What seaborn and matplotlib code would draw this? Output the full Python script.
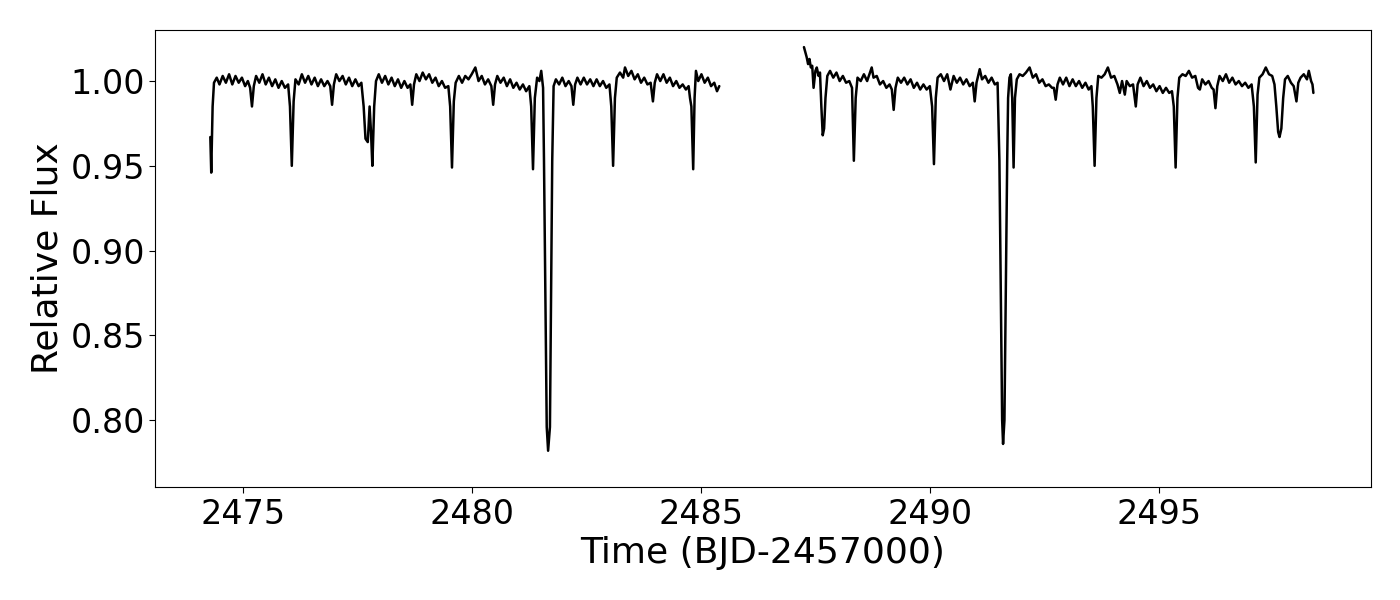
import numpy as np
import pandas as pd
import matplotlib
matplotlib.use('Agg')
import matplotlib.pyplot as plt
import seaborn as sns

# first orbit of the light curve
time_1 = [
    2474.28, 2474.30, 2474.33, 2474.36, 2474.42, 2474.48, 2474.55, 2474.62, 2474.69, 2474.76,
    2474.83, 2474.90, 2474.97, 2475.04, 2475.10, 2475.15, 2475.19, 2475.23, 2475.28, 2475.35,
    2475.42, 2475.49, 2475.56, 2475.63, 2475.70, 2475.77, 2475.84, 2475.91, 2475.98, 2476.02,
    2476.06, 2476.10, 2476.14, 2476.21, 2476.28, 2476.35, 2476.42, 2476.49, 2476.56, 2476.63,
    2476.70, 2476.77, 2476.84, 2476.90, 2476.94, 2476.98, 2477.03, 2477.10, 2477.17, 2477.24,
    2477.31, 2477.38, 2477.45, 2477.52, 2477.58, 2477.63, 2477.67, 2477.72, 2477.76, 2477.79,
    2477.82, 2477.86, 2477.90, 2477.96, 2478.03, 2478.10, 2478.17, 2478.24, 2478.31, 2478.38,
    2478.45, 2478.52, 2478.59, 2478.65, 2478.69, 2478.73, 2478.78, 2478.85, 2478.92, 2478.99,
    2479.06, 2479.13, 2479.20, 2479.27, 2479.34, 2479.41, 2479.48, 2479.52, 2479.56, 2479.60,
    2479.64, 2479.71, 2479.78, 2479.85, 2479.92, 2479.99, 2480.07, 2480.14, 2480.21, 2480.28,
    2480.35, 2480.42, 2480.46, 2480.50, 2480.55, 2480.62, 2480.69, 2480.76, 2480.83, 2480.90,
    2480.97, 2481.04, 2481.11, 2481.18, 2481.25, 2481.29, 2481.33, 2481.37, 2481.42, 2481.47,
    2481.51, 2481.55, 2481.57, 2481.63, 2481.66, 2481.70, 2481.75, 2481.78, 2481.83, 2481.90,
    2481.97, 2482.04, 2482.11, 2482.17, 2482.21, 2482.25, 2482.30, 2482.37, 2482.44, 2482.51,
    2482.58, 2482.65, 2482.72, 2482.79, 2482.86, 2482.93, 2483.00, 2483.04, 2483.08, 2483.12,
    2483.16, 2483.23, 2483.30, 2483.34, 2483.41, 2483.48, 2483.55, 2483.62, 2483.69, 2483.76,
    2483.83, 2483.90, 2483.95, 2483.99, 2484.04, 2484.11, 2484.18, 2484.25, 2484.32, 2484.39,
    2484.46, 2484.53, 2484.60, 2484.67, 2484.73, 2484.76, 2484.79, 2484.83, 2484.86, 2484.89,
    2484.94, 2485.01, 2485.08, 2485.15, 2485.22, 2485.29, 2485.35, 2485.40,
]
flux_1 = [
    0.967, 0.946, 0.985, 0.999, 1.002, 0.998, 1.003, 0.999, 1.004, 0.998,
    1.003, 0.999, 1.002, 0.997, 1.000, 0.996, 0.985, 0.997, 1.003, 0.999,
    1.004, 0.998, 1.002, 0.997, 1.001, 0.996, 1.000, 0.996, 0.998, 0.985,
    0.950, 0.988, 1.001, 0.998, 1.004, 0.999, 1.003, 0.998, 1.002, 0.997,
    1.001, 0.997, 1.000, 0.997, 0.986, 0.998, 1.004, 1.000, 1.003, 0.998,
    1.002, 0.997, 1.001, 0.997, 0.999, 0.985, 0.966, 0.964, 0.985, 0.970,
    0.950, 0.985, 1.000, 1.004, 0.999, 1.003, 0.998, 1.002, 0.997, 1.001,
    0.996, 1.000, 0.996, 0.998, 0.986, 0.998, 1.004, 1.000, 1.005, 1.001,
    1.004, 0.999, 1.002, 0.997, 1.000, 0.996, 0.997, 0.985, 0.949, 0.988,
    0.999, 1.003, 0.999, 1.003, 1.001, 1.004, 1.008, 1.000, 1.003, 0.998,
    1.001, 0.997, 0.986, 0.998, 1.003, 0.999, 1.002, 0.997, 1.001, 0.996,
    0.999, 0.995, 0.998, 0.994, 0.997, 0.985, 0.948, 0.990, 1.002, 1.000,
    1.006, 0.996, 0.953, 0.796, 0.782, 0.796, 0.953, 0.997, 1.001, 0.998,
    1.002, 0.997, 1.000, 0.997, 0.986, 0.998, 1.002, 0.998, 1.002, 0.998,
    1.001, 0.997, 1.001, 0.997, 1.000, 0.996, 0.998, 0.985, 0.950, 0.990,
    1.002, 1.005, 1.002, 1.008, 1.003, 1.006, 1.001, 1.004, 0.999, 1.002,
    0.998, 0.999, 0.988, 0.999, 1.004, 1.000, 1.004, 0.999, 1.002, 0.997,
    1.000, 0.996, 0.998, 0.995, 0.997, 0.990, 0.985, 0.948, 0.990, 1.006,
    1.000, 1.004, 0.999, 1.002, 0.997, 0.999, 0.994, 0.997,
]

# second orbit
time_2 = [
    2487.25, 2487.28, 2487.31, 2487.34, 2487.37, 2487.40, 2487.43, 2487.46, 2487.50, 2487.53,
    2487.57, 2487.60, 2487.63, 2487.66, 2487.69, 2487.72, 2487.76, 2487.82, 2487.89, 2487.96,
    2488.03, 2488.10, 2488.17, 2488.24, 2488.30, 2488.34, 2488.38, 2488.42, 2488.49, 2488.56,
    2488.63, 2488.73, 2488.77, 2488.84, 2488.91, 2488.98, 2489.05, 2489.12, 2489.17, 2489.21,
    2489.25, 2489.30, 2489.37, 2489.44, 2489.51, 2489.58, 2489.65, 2489.72, 2489.79, 2489.86,
    2489.93, 2490.00, 2490.05, 2490.09, 2490.13, 2490.17, 2490.24, 2490.31, 2490.38, 2490.45,
    2490.52, 2490.59, 2490.66, 2490.73, 2490.80, 2490.87, 2490.94, 2490.98, 2491.02, 2491.09,
    2491.14, 2491.21, 2491.28, 2491.35, 2491.42, 2491.48, 2491.52, 2491.58, 2491.60, 2491.63,
    2491.69, 2491.71, 2491.74, 2491.77, 2491.80, 2491.83, 2491.86, 2491.90, 2491.96, 2492.03,
    2492.10, 2492.18, 2492.25, 2492.32, 2492.39, 2492.46, 2492.53, 2492.60, 2492.67, 2492.71,
    2492.75, 2492.79, 2492.84, 2492.91, 2492.98, 2493.05, 2493.12, 2493.19, 2493.26, 2493.33,
    2493.40, 2493.47, 2493.53, 2493.56, 2493.60, 2493.64, 2493.68, 2493.75, 2493.82, 2493.89,
    2493.96, 2494.03, 2494.10, 2494.15, 2494.20, 2494.26, 2494.30, 2494.37, 2494.44, 2494.50,
    2494.54, 2494.60, 2494.67, 2494.74, 2494.81, 2494.88, 2494.95, 2495.02, 2495.09, 2495.16,
    2495.23, 2495.29, 2495.33, 2495.37, 2495.41, 2495.45, 2495.52, 2495.59, 2495.66, 2495.73,
    2495.80, 2495.86, 2495.90, 2495.95, 2496.02, 2496.09, 2496.16, 2496.20, 2496.24, 2496.28,
    2496.33, 2496.40, 2496.47, 2496.54, 2496.61, 2496.68, 2496.75, 2496.82, 2496.89, 2496.96,
    2497.03, 2497.08, 2497.12, 2497.16, 2497.20, 2497.27, 2497.34, 2497.41, 2497.48, 2497.53,
    2497.57, 2497.61, 2497.64, 2497.68, 2497.72, 2497.76, 2497.82, 2497.89, 2497.95, 2498.01,
    2498.05, 2498.10, 2498.17, 2498.24, 2498.28, 2498.33, 2498.36, 2498.38,
]
flux_2 = [
    1.020, 1.017, 1.014, 1.010, 1.013, 1.008, 1.009, 0.996, 1.006, 1.008,
    1.003, 1.005, 0.985, 0.968, 0.972, 0.990, 1.003, 1.006, 1.002, 1.005,
    1.000, 1.003, 0.999, 1.000, 0.996, 0.953, 0.990, 1.002, 1.000, 1.004,
    1.000, 1.008, 1.002, 1.003, 0.998, 1.000, 0.996, 0.998, 0.995, 0.983,
    0.996, 1.002, 0.999, 1.002, 0.998, 1.001, 0.996, 0.999, 0.995, 0.998,
    0.995, 0.997, 0.985, 0.951, 0.990, 1.002, 1.004, 1.000, 1.004, 0.995,
    1.003, 0.999, 1.002, 0.998, 1.001, 0.997, 0.999, 0.988, 0.999, 1.007,
    1.001, 1.003, 0.999, 1.002, 0.998, 0.999, 0.953, 0.800, 0.786, 0.800,
    0.953, 0.990, 1.002, 1.004, 0.990, 0.949, 0.990, 1.001, 1.004, 1.003,
    1.005, 1.008, 1.002, 1.004, 0.999, 1.001, 0.997, 0.998, 0.996, 0.996,
    0.989, 0.998, 1.002, 0.998, 1.002, 0.997, 1.001, 0.997, 1.000, 0.996,
    0.999, 0.995, 0.997, 0.985, 0.950, 0.990, 1.003, 1.002, 1.004, 1.008,
    1.002, 1.003, 0.998, 0.993, 1.000, 0.992, 1.000, 0.997, 0.998, 0.985,
    0.998, 1.002, 0.997, 1.000, 0.996, 0.998, 0.994, 0.997, 0.993, 0.996,
    0.993, 0.994, 0.985, 0.949, 0.990, 1.002, 1.004, 1.003, 1.006, 1.002,
    1.003, 0.996, 0.995, 1.001, 0.998, 1.000, 0.996, 0.995, 0.984, 0.997,
    1.003, 1.000, 1.004, 0.999, 1.002, 0.998, 1.000, 0.997, 0.999, 0.996,
    0.998, 0.985, 0.952, 0.992, 1.002, 1.004, 1.008, 1.004, 1.003, 0.998,
    0.985, 0.970, 0.967, 0.972, 0.990, 1.001, 1.003, 0.999, 0.997, 0.988,
    0.999, 1.002, 1.004, 1.001, 1.006, 1.000, 0.998, 0.993,
]

df = pd.concat([
    pd.DataFrame({'time': time_1, 'flux': flux_1, 'segment': 1}),
    pd.DataFrame({'time': time_2, 'flux': flux_2, 'segment': 2}),
], ignore_index=True)

sns.set_style('ticks', {'text.color': 'black', 'axes.labelcolor': 'black',
                        'xtick.color': 'black', 'ytick.color': 'black',
                        'axes.edgecolor': 'black'})
plt.rcParams['font.family'] = ['DejaVu Sans']

fig = plt.figure(figsize=(14, 6), dpi=100)
ax = fig.add_axes([0.111, 0.188, 0.868, 0.762])

sns.lineplot(data=df, x='time', y='flux', units='segment', estimator=None,
             sort=False, color='black', linewidth=1.8, ax=ax)

ax.set_xlim(2473.08, 2499.63)
ax.set_ylim(0.7605, 1.0301)
ax.set_xticks([2475, 2480, 2485, 2490, 2495])
ax.set_yticks([0.80, 0.85, 0.90, 0.95, 1.00])
ax.set_xlabel('Time (BJD-2457000)', fontsize=26)
ax.set_ylabel('Relative Flux', fontsize=26)
ax.tick_params(labelsize=24, length=4, width=0.8, colors='black')
for s in ax.spines.values():
    s.set_color('black')
    s.set_linewidth(0.8)

fig.savefig('out.png', dpi=100)
